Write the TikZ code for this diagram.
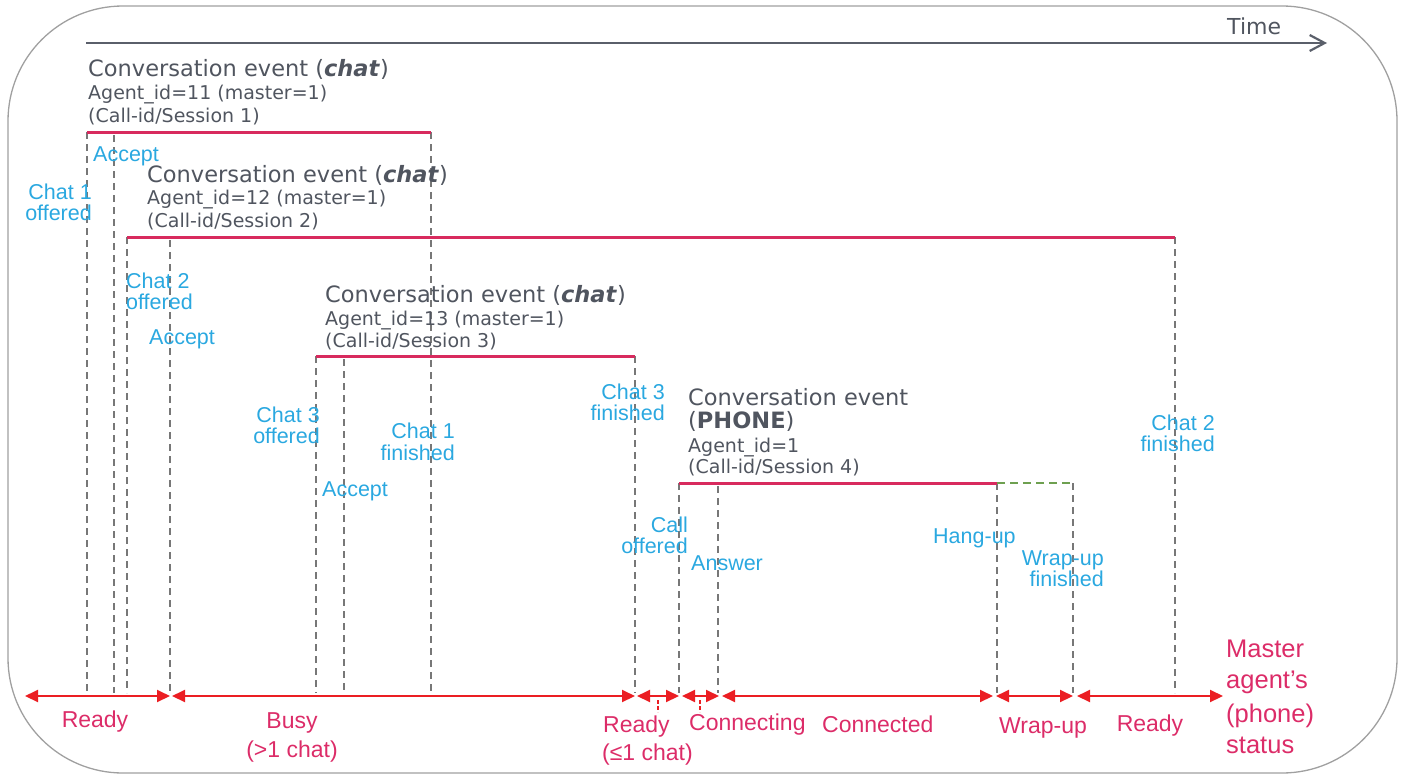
\documentclass[tikz,border=0pt]{standalone}
\usepackage{fontspec}
\setmainfont{Liberation Sans}
\newfontfamily\grayfont{DejaVu Sans}
\usetikzlibrary{arrows.meta}
\definecolor{txtgray}{HTML}{50555F}
\definecolor{axisgray}{HTML}{5A5F6A}
\definecolor{bordergray}{HTML}{A0A0A0}
\definecolor{dashgray}{HTML}{777777}
\definecolor{convpink}{HTML}{D82A5E}
\definecolor{lblue}{HTML}{2AA8E0}
\definecolor{arrred}{HTML}{EB1E23}
\definecolor{lpink}{HTML}{DC2C68}
\definecolor{wrapgreen}{HTML}{6EA050}
\begin{document}
\begin{tikzpicture}[x=1pt,y=-1pt,
  gtitle/.style={font=\grayfont\fontsize{22.5}{26}\selectfont, text=txtgray, inner sep=0pt, anchor=base west},
  gsub/.style={font=\grayfont\fontsize{19}{22}\selectfont, text=txtgray, inner sep=0pt, anchor=base west},
  blab/.style={font=\fontsize{21.5}{24}\selectfont, text=lblue, inner sep=0pt},
  plab/.style={font=\fontsize{23}{26}\selectfont, text=lpink, inner sep=0pt},
  mlab/.style={font=\fontsize{25.5}{28}\selectfont, text=lpink, inner sep=0pt, anchor=base west},
  convline/.style={draw=convpink, line width=3pt},
  wrapline/.style={draw=wrapgreen, line width=1.8pt, dash pattern=on 8pt off 5pt},
  vdash/.style={draw=dashgray, line width=1.6pt, dash pattern=on 7pt off 5pt},
  tick/.style={draw=arrred, line width=1.2pt, dash pattern=on 4pt off 2pt},
  seg/.style={draw=arrred, line width=2pt, {Triangle[length=13pt,width=12pt]}-{Triangle[length=13pt,width=12pt]}},
  timearrow/.style={draw=axisgray, line width=2.4pt, -{Straight Barb[length=15pt,width=16pt,line width=2.2pt]}}
]
\useasboundingbox (0,0) rectangle (1404,776);
\draw[bordergray, line width=1.3pt, rounded corners=115pt] (8,6) rectangle (1397,773);

% time axis
\coordinate (tA) at (86,43);
\coordinate (tB) at (1327,43);
\draw[timearrow] (tA) -- (tB);
\node[gtitle, font=\grayfont\fontsize{22}{26}\selectfont] (time) at (1227,35) {Time};

% ---------- event 1 ----------
\node[gtitle] (t1a) at (88,77) {Conversation event (\textbf{\textit{chat}})};
\node[gsub] (t1b) at (88,99) {Agent\_id=11 (master=1)};
\node[gsub] (t1c) at (88,122) {(Call-id/Session 1)};
\coordinate (e1a) at (87,132);
\coordinate (e1b) at (431,132);
\coordinate (e1acc) at (114,135);
\coordinate (e1aB) at (87,693);
\coordinate (e1bB) at (431,693);
\coordinate (e1accB) at (114,693);
\draw[vdash] (e1a) -- (e1aB);
\draw[vdash] (e1acc) -- (e1accB);
\draw[vdash] (e1b) -- (e1bB);
\draw[convline] (e1a) -- (e1b);

% ---------- event 2 ----------
\node[gtitle] (t2a) at (147,182) {Conversation event (\textbf{\textit{chat}})};
\node[gsub] (t2b) at (147,204) {Agent\_id=12 (master=1)};
\node[gsub] (t2c) at (147,227) {(Call-id/Session 2)};
\coordinate (e2a) at (127,237);
\coordinate (e2b) at (1175,237);
\coordinate (e2acc) at (170,240);
\coordinate (e2aB) at (127,693);
\coordinate (e2bB) at (1175,693);
\coordinate (e2accB) at (170,693);
\draw[vdash] (e2a) -- (e2aB);
\draw[vdash] (e2acc) -- (e2accB);
\draw[vdash] (e2b) -- (e2bB);
\draw[convline] (e2a) -- (e2b);

% ---------- event 3 ----------
\node[gtitle] (t3a) at (325,302) {Conversation event (\textbf{\textit{chat}})};
\node[gsub] (t3b) at (325,325) {Agent\_id=13 (master=1)};
\node[gsub] (t3c) at (325,347) {(Call-id/Session 3)};
\coordinate (e3a) at (316,356);
\coordinate (e3b) at (635,356);
\coordinate (e3acc) at (344,359);
\coordinate (e3aB) at (316,693);
\coordinate (e3bB) at (635,693);
\coordinate (e3accB) at (344,693);
\draw[vdash] (e3a) -- (e3aB);
\draw[vdash] (e3acc) -- (e3accB);
\draw[vdash] (e3b) -- (e3bB);
\draw[convline] (e3a) -- (e3b);

% ---------- event 4 ----------
\node[gtitle] (t4a) at (688,405) {Conversation event};
\node[gtitle] (t4b) at (688,428) {(\textbf{PHONE})};
\node[gsub] (t4c) at (688,452) {Agent\_id=1};
\node[gsub] (t4d) at (688,473) {(Call-id/Session 4)};
\coordinate (e4a) at (679,483);
\coordinate (e4b) at (997,483);
\coordinate (e4c) at (1073,483);
\coordinate (e4ans) at (718,486);
\coordinate (e4aB) at (679,693);
\coordinate (e4bB) at (997,693);
\coordinate (e4cB) at (1073,693);
\coordinate (e4ansB) at (718,693);
\draw[vdash] (e4a) -- (e4aB);
\draw[vdash] (e4ans) -- (e4ansB);
\draw[vdash] (e4b) -- (e4bB);
\draw[vdash] (e4c) -- (e4cB);
\draw[wrapline] (e4b) -- (e4c);
\draw[convline] (e4a) -- (e4b);

% ---------- blue event labels ----------
\node[blab, anchor=base west] (acc1) at (93,161) {Accept};
\node[blab, anchor=base east] (off1a) at (92,199) {Chat 1};
\node[blab, anchor=base east] (off1b) at (92,220) {offered};
\node[blab, anchor=base west] (off2a) at (126,288) {Chat 2};
\node[blab, anchor=base west] (off2b) at (126,309) {offered};
\node[blab, anchor=base west] (acc2) at (149,344) {Accept};
\node[blab, anchor=base east] (off3a) at (320,422) {Chat 3};
\node[blab, anchor=base east] (off3b) at (320,443) {offered};
\node[blab, anchor=base east] (fin1a) at (455,438) {Chat 1};
\node[blab, anchor=base east] (fin1b) at (455,460) {finished};
\node[blab, anchor=base west] (acc3) at (322,496) {Accept};
\node[blab, anchor=base east] (fin3a) at (665,399) {Chat 3};
\node[blab, anchor=base east] (fin3b) at (665,420) {finished};
\node[blab, anchor=base east] (calla) at (688,532) {Call};
\node[blab, anchor=base east] (callb) at (688,553) {offered};
\node[blab, anchor=base west] (answer) at (691,570) {Answer};
\node[blab, anchor=base west] (hangup) at (933,543) {Hang-up};
\node[blab, anchor=base east] (wrapfa) at (1104,565) {Wrap-up};
\node[blab, anchor=base east] (wrapfb) at (1104,586) {finished};
\node[blab, anchor=base east] (fin2a) at (1215,430) {Chat 2};
\node[blab, anchor=base east] (fin2b) at (1215,451) {finished};

% ---------- status line ----------
\coordinate (s0) at (25,696);
\coordinate (s1) at (170,696);
\coordinate (s2) at (172,696);
\coordinate (s3) at (635,696);
\coordinate (s4) at (637,696);
\coordinate (s5) at (679,696);
\coordinate (s6) at (682,696);
\coordinate (s7) at (719,696);
\coordinate (s8) at (722,696);
\coordinate (s9) at (993,696);
\coordinate (s10) at (996,696);
\coordinate (s11) at (1073,696);
\coordinate (s12) at (1077,696);
\coordinate (s13) at (1223,696);
\draw[seg] (s0) -- (s1);
\draw[seg] (s2) -- (s3);
\draw[seg] (s4) -- (s5);
\draw[seg] (s6) -- (s7);
\draw[seg] (s8) -- (s9);
\draw[seg] (s10) -- (s11);
\draw[seg] (s12) -- (s13);
\coordinate (k1a) at (658,700);
\coordinate (k1b) at (658,712);
\coordinate (k2a) at (700,700);
\coordinate (k2b) at (700,712);
\draw[tick] (k1a) -- (k1b);
\draw[tick] (k2a) -- (k2b);

% ---------- status labels ----------
\node[plab, anchor=base] (st1) at (95,727) {Ready};
\node[plab, anchor=base] (st2a) at (292,728) {Busy};
\node[plab, anchor=base] (st2b) at (292,757) {(>1 chat)};
\node[plab, anchor=base west] (st3a) at (603,732) {Ready};
\node[plab, anchor=base west] (st3b) at (602,760) {(≤1 chat)};
\node[plab, anchor=base west] (st4) at (689,730) {Connecting};
\node[plab, anchor=base west] (st5) at (822,732) {Connected};
\node[plab, anchor=base] (st6) at (1043,733) {Wrap-up};
\node[plab, anchor=base] (st7) at (1150,731) {Ready};
\node[mlab] (m1) at (1226,657) {Master};
\node[mlab] (m2) at (1226,688) {agent’s};
\node[mlab] (m3) at (1226,722) {(phone)};
\node[mlab] (m4) at (1226,753) {status};
\end{tikzpicture}
\end{document}
